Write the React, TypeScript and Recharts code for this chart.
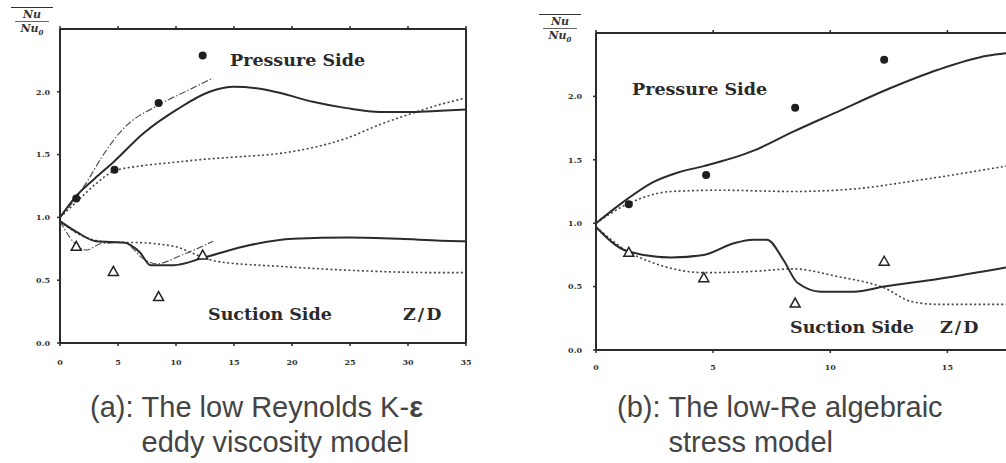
import React from "react"
import { ComposedChart, Line, Scatter, XAxis, YAxis, ReferenceLine } from "recharts"

type Pt = { x: number; y: number }

// measured points (same experiment in both panels)
const expPressure: Pt[] = [
  { x: 1.4, y: 1.15 },
  { x: 4.7, y: 1.38 },
  { x: 8.5, y: 1.91 },
  { x: 12.3, y: 2.29 },
]
const expSuction: Pt[] = [
  { x: 1.4, y: 0.77 },
  { x: 4.6, y: 0.57 },
  { x: 8.5, y: 0.37 },
  { x: 12.3, y: 0.7 },
]

// (a) low Reynolds K-e model
const aPressureSolid: Pt[] = [
  { x: 0, y: 1.0 }, { x: 1.3, y: 1.16 }, { x: 3, y: 1.31 }, { x: 4.6, y: 1.44 },
  { x: 7.2, y: 1.67 }, { x: 10.1, y: 1.86 }, { x: 12.9, y: 2.0 }, { x: 15, y: 2.04 },
  { x: 17.5, y: 2.02 }, { x: 19, y: 1.99 }, { x: 21.8, y: 1.92 }, { x: 24.7, y: 1.87 },
  { x: 27.6, y: 1.84 }, { x: 30.4, y: 1.84 }, { x: 32.8, y: 1.85 }, { x: 35, y: 1.86 },
]
const aPressureDotted: Pt[] = [
  { x: 0, y: 1.0 }, { x: 1.5, y: 1.13 }, { x: 3, y: 1.26 }, { x: 4.7, y: 1.37 },
  { x: 7, y: 1.41 }, { x: 10, y: 1.44 }, { x: 12.1, y: 1.46 }, { x: 15, y: 1.48 },
  { x: 19, y: 1.51 }, { x: 22, y: 1.56 }, { x: 24.7, y: 1.63 }, { x: 27.6, y: 1.74 },
  { x: 30.4, y: 1.83 }, { x: 32.8, y: 1.9 }, { x: 35, y: 1.95 },
]
const aPressureDashDot: Pt[] = [
  { x: 0, y: 1.0 }, { x: 1.5, y: 1.17 }, { x: 2.5, y: 1.31 }, { x: 3.6, y: 1.48 },
  { x: 5.4, y: 1.7 }, { x: 8.6, y: 1.9 }, { x: 11, y: 2.01 }, { x: 13.2, y: 2.11 },
]
const aSuctionSolid: Pt[] = [
  { x: 0, y: 0.97 }, { x: 1.5, y: 0.88 }, { x: 3.1, y: 0.81 }, { x: 5.5, y: 0.8 },
  { x: 6.9, y: 0.72 }, { x: 7.8, y: 0.62 }, { x: 9.8, y: 0.62 }, { x: 12.4, y: 0.68 },
  { x: 16.4, y: 0.78 }, { x: 20.1, y: 0.83 }, { x: 25, y: 0.84 }, { x: 29.3, y: 0.83 },
  { x: 32.8, y: 0.815 }, { x: 35, y: 0.81 },
]
const aSuctionDotted: Pt[] = [
  { x: 0, y: 0.97 }, { x: 2, y: 0.85 }, { x: 4.5, y: 0.8 }, { x: 6.3, y: 0.8 },
  { x: 9.8, y: 0.77 }, { x: 12.1, y: 0.69 }, { x: 13.5, y: 0.65 }, { x: 19, y: 0.61 },
  { x: 24.7, y: 0.58 }, { x: 32.8, y: 0.56 }, { x: 35, y: 0.56 },
]
const aSuctionDashDot: Pt[] = [
  { x: 0, y: 0.97 }, { x: 1.2, y: 0.8 }, { x: 2.3, y: 0.74 }, { x: 3.5, y: 0.79 },
  { x: 5.5, y: 0.8 }, { x: 7.2, y: 0.67 }, { x: 8.3, y: 0.63 }, { x: 10.5, y: 0.7 },
  { x: 13.2, y: 0.81 },
]

// (b) low-Re algebraic stress model
const bPressureSolid: Pt[] = [
  { x: 0, y: 1.0 }, { x: 1.33, y: 1.19 }, { x: 2.4, y: 1.32 }, { x: 3.5, y: 1.4 },
  { x: 4.6, y: 1.45 }, { x: 6.7, y: 1.57 }, { x: 8.4, y: 1.72 }, { x: 10.2, y: 1.87 },
  { x: 12.5, y: 2.06 }, { x: 14.6, y: 2.21 }, { x: 16.7, y: 2.32 }, { x: 17.5, y: 2.34 },
]
const bPressureDotted: Pt[] = [
  { x: 0, y: 1.0 }, { x: 1.33, y: 1.15 }, { x: 3.2, y: 1.25 }, { x: 5.3, y: 1.26 },
  { x: 8.4, y: 1.25 }, { x: 11, y: 1.27 }, { x: 13.8, y: 1.34 }, { x: 17.5, y: 1.45 },
]
const bSuctionSolid: Pt[] = [
  { x: 0, y: 0.97 }, { x: 1.33, y: 0.78 }, { x: 3.2, y: 0.73 }, { x: 4.6, y: 0.75 },
  { x: 5.85, y: 0.84 }, { x: 6.7, y: 0.87 }, { x: 7.3, y: 0.87 }, { x: 8.0, y: 0.71 },
  { x: 8.6, y: 0.53 }, { x: 9.6, y: 0.46 }, { x: 11, y: 0.46 }, { x: 12.3, y: 0.5 },
  { x: 14.6, y: 0.56 }, { x: 17.5, y: 0.65 },
]
const bSuctionDotted: Pt[] = [
  { x: 0, y: 0.97 }, { x: 1.33, y: 0.78 }, { x: 2.4, y: 0.69 }, { x: 4.65, y: 0.61 },
  { x: 6.7, y: 0.62 }, { x: 8.4, y: 0.64 }, { x: 10.3, y: 0.58 }, { x: 12.3, y: 0.49 },
  { x: 13.5, y: 0.38 }, { x: 14.6, y: 0.36 }, { x: 17.5, y: 0.36 },
]

const aTicksX = [0, 5, 10, 15, 20, 25, 30, 35]
const bTicksX = [0, 5, 10, 15]
const ticksY = [0, 0.5, 1, 1.5, 2]

const INK = "#2b2b2b"
const SOLID = { stroke: INK, strokeWidth: 2 }
const DOTTED = { stroke: "#444", strokeWidth: 1.6, strokeDasharray: "2 2.5" }
const DASHDOT = { stroke: "#555", strokeWidth: 1.2, strokeDasharray: "7 2 1.5 2" }

const tickFont = { fontSize: 8, fontFamily: "DejaVu Serif", fontWeight: 700, fill: "#333" }
const labelFont: React.CSSProperties = {
  position: "absolute",
  fontFamily: "DejaVu Serif",
  fontWeight: 700,
  fontSize: 17.5,
  lineHeight: 1,
  color: "#2a2a2a",
  whiteSpace: "nowrap",
}
const captionFont: React.CSSProperties = {
  position: "absolute",
  display: "flex",
  fontFamily: "Liberation Sans",
  fontSize: 29,
  lineHeight: "35px",
  color: "#444",
  whiteSpace: "nowrap",
}

const Dot = (p: any) => <circle cx={p.cx} cy={p.cy} r={4} fill="#1e1e1e" />
const Tri = (p: any) => (
  <path
    d={`M${p.cx},${p.cy - 5} L${p.cx + 5},${p.cy + 4} L${p.cx - 5},${p.cy + 4} Z`}
    fill="#fff"
    stroke="#222"
    strokeWidth={1.5}
  />
)
const NoTick = () => <g />

type Curve = { data: Pt[]; style: any }

const YLabel = ({ left, top }: { left: number; top: number }) => (
  <div
    style={{
      position: "absolute",
      left,
      top,
      width: 42,
      borderTop: "1.5px solid #333",
      fontFamily: "DejaVu Serif",
      fontStyle: "italic",
      fontWeight: 700,
      fontSize: 11,
      lineHeight: "13px",
      color: "#333",
      textAlign: "center",
    }}>
    <div>Nu</div>
    <div style={{ borderTop: "1px solid #666", marginLeft: 4, marginRight: 4 }}>
      Nu<sub style={{ fontSize: 7 }}>0</sub>
    </div>
  </div>
)

type PanelProps = {
  width: number
  height: number
  top: number
  yAxisWidth: number
  xAxisHeight: number
  tickMarginX: number
  tickMarginY: number
  xDomain: [number, number]
  xTicks: number[]
  curves: Curve[]
  frameRight: boolean
}

const frameLine = { stroke: INK, strokeWidth: 2 }

const Panel = (p: PanelProps) => (
  <ComposedChart
    width={p.width}
    height={p.height}
    margin={{ top: p.top - 2, right: p.frameRight ? 12 : 0, bottom: 0, left: 0 }}>
    <XAxis
      type='number'
      dataKey='x'
      domain={p.xDomain}
      ticks={p.xTicks}
      allowDataOverflow
      height={p.xAxisHeight}
      tickSize={3}
      tickMargin={p.tickMarginX}
      tick={tickFont}
      axisLine={frameLine}
      tickLine={{ stroke: INK, strokeWidth: 1.5 }}
    />
    <XAxis
      xAxisId='t'
      orientation='top'
      type='number'
      dataKey='x'
      domain={p.xDomain}
      ticks={p.xTicks}
      allowDataOverflow
      height={2}
      tickSize={3}
      tick={NoTick}
      axisLine={frameLine}
      tickLine={{ stroke: INK, strokeWidth: 1.5 }}
    />
    <YAxis
      type='number'
      dataKey='y'
      domain={[0, 2.5]}
      ticks={ticksY}
      allowDataOverflow
      width={p.yAxisWidth}
      tickSize={3}
      tickMargin={p.tickMarginY}
      tickFormatter={(v: number) => v.toFixed(1)}
      tick={tickFont}
      axisLine={frameLine}
      tickLine={{ stroke: INK, strokeWidth: 1.5 }}
    />
    {p.frameRight && (
      <YAxis
        yAxisId='r'
        orientation='right'
        type='number'
        domain={[0, 2.5]}
        ticks={ticksY}
        width={2}
        tickSize={3}
        tick={NoTick}
        axisLine={frameLine}
        tickLine={{ stroke: INK, strokeWidth: 1.5 }}
      />
    )}
    <ReferenceLine y={2.5} {...frameLine} ifOverflow='visible' />
    {p.frameRight && <ReferenceLine x={p.xDomain[1]} {...frameLine} ifOverflow='visible' />}
    {p.curves.map((c, i) => (
      <Line
        key={i}
        data={c.data}
        dataKey='y'
        type='monotone'
        dot={false}
        activeDot={false}
        isAnimationActive={false}
        {...c.style}
      />
    ))}
    <Scatter data={expPressure} dataKey='y' shape={Dot} isAnimationActive={false} />
    <Scatter data={expSuction} dataKey='y' shape={Tri} isAnimationActive={false} />
  </ComposedChart>
)

export default function App() {
  return (
    <div
      style={{
        position: "absolute",
        left: 0,
        top: 0,
        width: 1006,
        height: 463,
        overflow: "hidden",
        background: "#fff",
      }}>
      <div style={{ position: "absolute", left: 0, top: 0 }}>
        <Panel
          width={480}
          height={380}
          top={29}
          yAxisWidth={60}
          xAxisHeight={37}
          tickMarginX={13}
          tickMarginY={7}
          xDomain={[0, 35]}
          xTicks={aTicksX}
          frameRight
          curves={[
            { data: aPressureDotted, style: DOTTED },
            { data: aSuctionDotted, style: DOTTED },
            { data: aPressureDashDot, style: DASHDOT },
            { data: aSuctionDashDot, style: DASHDOT },
            { data: aPressureSolid, style: SOLID },
            { data: aSuctionSolid, style: SOLID },
          ]}
        />
      </div>
      <div style={{ position: "absolute", left: 520, top: 0 }}>
        <Panel
          width={486}
          height={385}
          top={33}
          yAxisWidth={76}
          xAxisHeight={35}
          tickMarginX={11}
          tickMarginY={11}
          xDomain={[0, 17.5]}
          xTicks={bTicksX}
          frameRight={false}
          curves={[
            { data: bPressureDotted, style: DOTTED },
            { data: bSuctionDotted, style: DOTTED },
            { data: bPressureSolid, style: SOLID },
            { data: bSuctionSolid, style: SOLID },
          ]}
        />
      </div>

      <YLabel left={11} top={7} />
      <YLabel left={539} top={14} />

      <div style={{ ...labelFont, left: 230, top: 52 }}>Pressure Side</div>
      <div style={{ ...labelFont, left: 208, top: 306 }}>Suction Side</div>
      <div style={{ ...labelFont, left: 403, top: 306, letterSpacing: 2 }}>Z/D</div>
      <div style={{ ...labelFont, left: 632, top: 81 }}>Pressure Side</div>
      <div style={{ ...labelFont, left: 790, top: 319 }}>Suction Side</div>
      <div style={{ ...labelFont, left: 940, top: 319, letterSpacing: 2 }}>Z/D</div>

      <div style={{ ...captionFont, left: 90, top: 390 }}>
        <span>(a):&nbsp;</span>
        <div>
          The low Reynolds K-<b>ε</b>
          <br />
          eddy viscosity model
        </div>
      </div>
      <div style={{ ...captionFont, left: 617, top: 390 }}>
        <span>(b):&nbsp;</span>
        <div>
          The low-Re algebraic
          <br />
          stress model
        </div>
      </div>
    </div>
  )
}
